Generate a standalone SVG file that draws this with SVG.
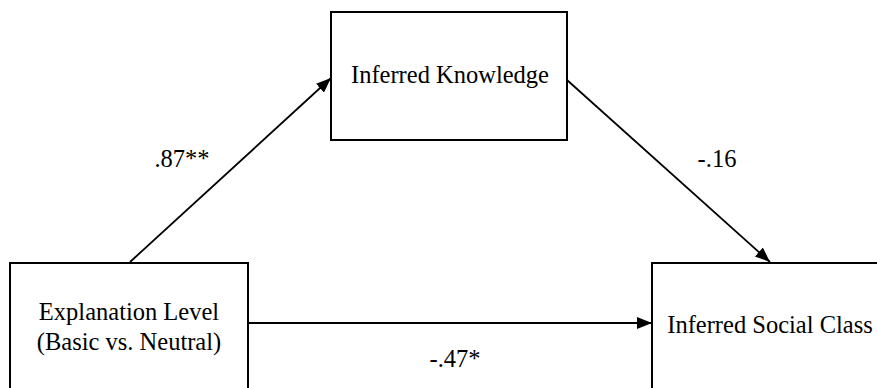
<svg xmlns="http://www.w3.org/2000/svg" width="877" height="388" viewBox="0 0 877 388">
<style>
.box{fill:#fff;stroke:#000;stroke-width:2}
.t{font-family:'Liberation Serif','Times New Roman','DejaVu Serif',serif;font-size:24.5px;fill:#000;text-anchor:middle}
.e{stroke:#000;stroke-width:1.8;fill:none;marker-end:url(#ah)}
</style>
<defs>
<marker id="ah" markerUnits="userSpaceOnUse" markerWidth="16" markerHeight="12" refX="15" refY="6" orient="auto">
<path d="M0,0 L15,6 L0,12 z" fill="#000"/>
</marker>
</defs>
<rect width="877" height="388" fill="#fff"/>
<g id="connectors">
<line class="e" x1="130" y1="262" x2="331" y2="78"/>
<line class="e" x1="567" y1="80" x2="770" y2="262"/>
<line class="e" x1="248" y1="323" x2="652" y2="323"/>
<text class="t" x="182" y="167">.87**</text>
<text class="t" x="717" y="167">-.16</text>
<text class="t" x="455" y="367">-.47*</text>
</g>
<g id="knowledge">
<rect class="box" x="331" y="12" width="236" height="128"/>
<text class="t" x="450" y="83">Inferred Knowledge</text>
</g>
<g id="explanation">
<rect class="box" x="10" y="263" width="238" height="140"/>
<text class="t" x="129" y="320">Explanation Level</text>
<text class="t" x="129" y="350">(Basic vs. Neutral)</text>
</g>
<g id="social">
<rect class="box" x="652" y="263" width="240" height="140"/>
<text class="t" x="770" y="333">Inferred Social Class</text>
</g>
</svg>
